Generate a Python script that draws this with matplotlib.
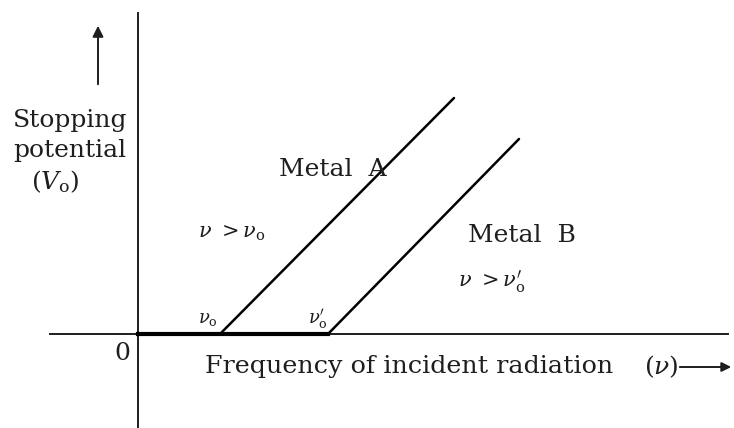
import matplotlib.pyplot as plt

# threshold frequencies and end points of the two straight lines
metals = ["Metal  A", "Metal  B"]
threshold_nu = [82, 190]
end_nu = [316, 381]
end_V = [236, 195]

plt.rcParams['font.family'] = ['DejaVu Serif']
plt.rcParams['mathtext.fontset'] = 'dejavuserif'

ink = '#1e1e1e'

fig = plt.figure(figsize=(7.34, 4.28), dpi=100)
ax = fig.add_axes([0, 0, 1, 1])
ax.set_xlim(-138, 596)
ax.set_ylim(-94, 334)
ax.axis("off")

# axes of the sketch
ax.plot([0, 0], [-94, 321], color=ink, lw=1.4)
ax.plot([-88, 590], [0, 0], color=ink, lw=1.4)
ax.plot([0, threshold_nu[1]], [0, 0], color='black', lw=3)

for i in range(len(metals)):
    ax.plot([threshold_nu[i], end_nu[i]], [0, end_V[i]], color='black', lw=1.8,
            solid_capstyle='round')

# direction arrows
ax.annotate("", xy=(-40, 311), xytext=(-40, 247),
            arrowprops=dict(arrowstyle='-|>', color=ink, lw=1.4, mutation_scale=16))
ax.annotate("", xy=(596, -33), xytext=(539, -33),
            arrowprops=dict(arrowstyle='-|>', color=ink, lw=1.4, mutation_scale=14))

fs = 18
ax.text(-68, 214, "Stopping", ha='center', va='center', fontsize=fs, color=ink)
ax.text(-68, 183, "potential", ha='center', va='center', fontsize=fs, color=ink)
ax.text(-83, 152, r"($V_{\mathrm{o}}$)", ha='center', va='center', fontsize=fs, color=ink)
ax.text(-16, -19, "0", ha='center', va='center', fontsize=fs, color=ink)
ax.text(67, -33, "Frequency of incident radiation", ha='left', va='center', fontsize=18.3,
        color=ink)
ax.text(523, -33, r"$(\nu)$", ha='center', va='center', fontsize=fs, color=ink)

ax.text(141, 164, metals[0], ha='left', va='center', fontsize=fs, color=ink)
ax.text(330, 99, metals[1], ha='left', va='center', fontsize=fs, color=ink)
ax.text(60, 101, r"$\nu\ >\nu_{\mathrm{o}}$", ha='left', va='center', fontsize=15, color=ink)
ax.text(320, 52, r"$\nu\ >\nu_{\mathrm{o}}'$", ha='left', va='center', fontsize=15, color=ink)
ax.text(70, 15, r"$\nu_{\mathrm{o}}$", ha='center', va='center', fontsize=13, color=ink)
ax.text(180, 15, r"$\nu_{\mathrm{o}}'$", ha='center', va='center', fontsize=13, color=ink)

fig.savefig("out.png", dpi=100)
